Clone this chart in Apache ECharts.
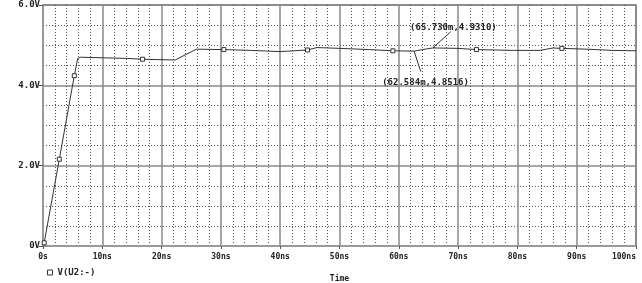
<!DOCTYPE html>
<html><head><meta charset="utf-8">
<script src="https://cdn.jsdelivr.net/npm/echarts@6/dist/echarts.min.js"></script>
<style>html,body{margin:0;padding:0;background:#fff;overflow:hidden}#c{width:642px;height:283px}</style>
</head><body><div id="c"></div>
<script>
var timesNs = [0.2, 2.75, 5.28, 5.85, 6.3, 14.1, 16.8, 22.3, 24.0, 25.9, 30.5, 35.0, 40.0, 44.6, 46.2, 50.1, 55.0, 59.0, 62.584, 64.0, 65.73, 70.0, 73.1, 79.3, 83.8, 86.0, 87.5, 91.7, 96.0, 100];
var volts   = [0.08, 2.16, 4.24, 4.67, 4.70, 4.67, 4.65, 4.63, 4.76, 4.90, 4.89, 4.87, 4.84, 4.88, 4.94, 4.92, 4.89, 4.86, 4.8516, 4.89, 4.931, 4.92, 4.89, 4.87, 4.87, 4.93, 4.92, 4.90, 4.87, 4.86];
var markerIdx = [0, 1, 2, 6, 10, 13, 17, 22, 26];
var xTickLabels = ['0s','10ns','20ns','30ns','40ns','50ns','60ns','70ns','80ns','90ns','100ns'];
var yTickLabels = {0:'0V', 2:'2.0V', 4:'4.0V', 6:'6.0V'};
var cursorT = [65.73, 62.584];
var cursorV = [4.931, 4.8516];
var cursorLabels = ['(65.730m,4.9310)', '(62.584m,4.8516)'];
var seriesName = 'V(U2:-)';

var MONO = '"DejaVu Sans Mono", monospace';
var lineColor = '#333';
var data = timesNs.map(function(t, i){
  var item = {value:[t, volts[i]]};
  if (markerIdx.indexOf(i) >= 0) { item.symbol = 'rect'; item.symbolSize = 4; }
  else { item.symbol = 'none'; }
  return item;
});
var leaderEnd = [[68.75, 5.335], [63.7, 4.34]];
var labelPos = [[61.9, 5.43], [57.2, 4.06]];

var chart = echarts.init(document.getElementById('c'));
chart.setOption({
  animation:false,
  backgroundColor:'#fff',
  grid:{left:43, right:6, top:5, bottom:37, show:true, borderColor:'#999', borderWidth:2, backgroundColor:'#fff',
    containLabel:false, outerBoundsMode:'none'},
  legend:{show:true, left:42, top:263, itemWidth:5, itemHeight:5, itemGap:4, icon:'rect',
    data:[{name:seriesName, itemStyle:{color:'#fff', borderColor:'#333', borderWidth:1}}],
    textStyle:{fontFamily:MONO, fontSize:9, fontWeight:'bold', color:'#222', padding:[0,0,0,0]}},
  xAxis:{type:'value', min:0, max:100, interval:10,
    name:'Time', nameLocation:'middle', nameGap:29,
    nameTextStyle:{fontFamily:MONO, fontSize:8, fontWeight:'bold', color:'#222'},
    axisLine:{show:true, lineStyle:{color:'#999', width:2}},
    axisTick:{show:true, length:3, lineStyle:{color:'#555'}},
    axisLabel:{margin:7, fontFamily:MONO, fontSize:8, fontWeight:'bold', color:'#222', alignMaxLabel:'right',
      formatter:function(v){ return xTickLabels[Math.round(v/10)]; }},
    splitLine:{show:true, lineStyle:{color:'#888', width:1.5}},
    minorTick:{show:false, splitNumber:5},
    minorSplitLine:{show:true, lineStyle:{color:'#555', width:1, type:[1,2]}}
  },
  yAxis:{type:'value', min:0, max:6, interval:2,
    axisLine:{show:true, lineStyle:{color:'#999', width:2}},
    axisTick:{show:true, length:4, lineStyle:{color:'#555'}},
    axisLabel:{margin:3, fontFamily:MONO, fontSize:9, fontWeight:'bold', color:'#222',
      formatter:function(v){ return yTickLabels[v]; }},
    splitLine:{show:true, lineStyle:{color:'#888', width:1.5}},
    minorTick:{show:false, splitNumber:4},
    minorSplitLine:{show:true, lineStyle:{color:'#555', width:1, type:[1,2]}}
  },
  series:[{
    name:seriesName, type:'line', data:data, showSymbol:true, smooth:false,
    lineStyle:{color:lineColor, width:1},
    itemStyle:{color:'#fff', borderColor:'#333', borderWidth:1},
    markLine:{silent:true, symbol:['none','none'], label:{show:false},
      lineStyle:{color:'#333', width:1, type:'solid'},
      data:cursorT.map(function(t,i){ return [{coord:[t, cursorV[i]]},{coord:leaderEnd[i]}]; })
    },
    markPoint:{silent:true, symbolSize:0,
      data:cursorLabels.map(function(s,i){ return {coord:labelPos[i], value:s,
        label:{show:true, position:'right', distance:0, formatter:s,
          fontFamily:MONO, fontSize:9, fontWeight:'bold', color:'#222'}}; })
    }
  }]
});
</script></body></html>
